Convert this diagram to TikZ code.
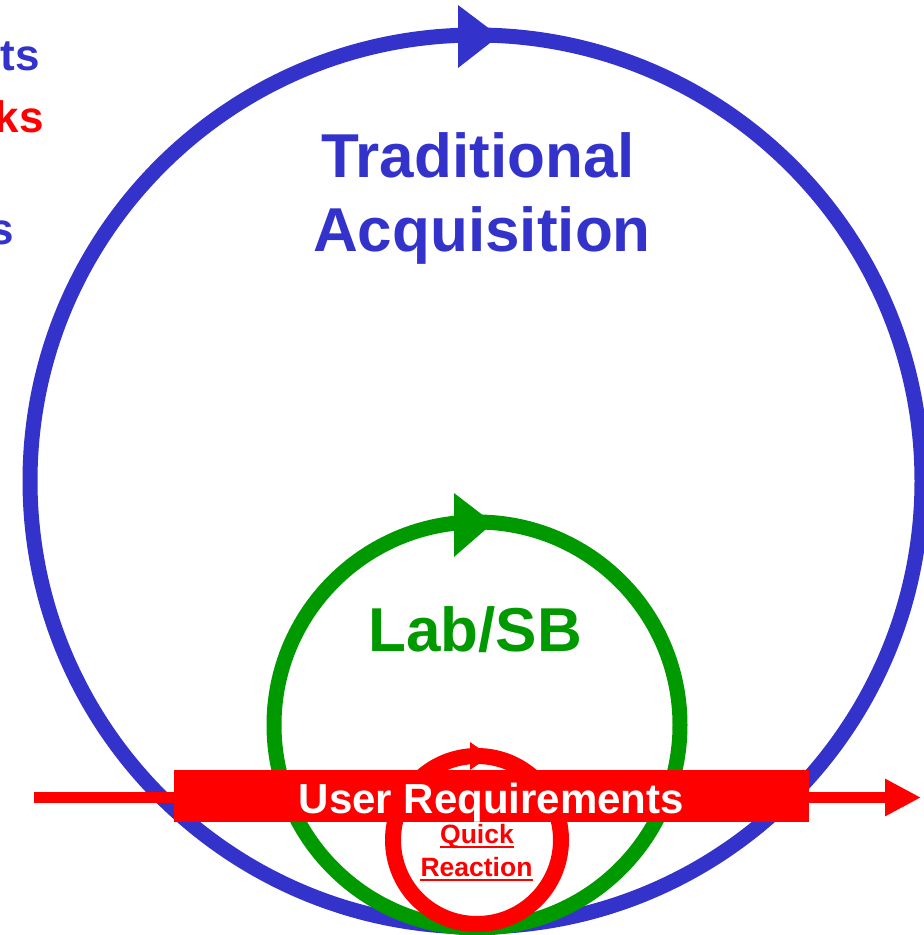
\documentclass[tikz,border=0pt]{standalone}
\usepackage{fontspec}
\setmainfont{Liberation Sans}
\usetikzlibrary{arrows.meta}
\definecolor{cblue}{RGB}{51,51,204}
\definecolor{cgreen}{RGB}{0,153,0}
\definecolor{cred}{RGB}{255,0,0}
\tikzset{
  ring/.style={line width=15pt},
  lbl/.style={inner sep=0pt, anchor=base, font=\bfseries},
  side/.style={inner sep=0pt, anchor=base east, font=\bfseries\fontsize{44}{50}\selectfont},
  uline/.style={cred, line width=2.2pt}
}
\begin{document}
\begin{tikzpicture}[x=1pt,y=-1pt]
\useasboundingbox (0,0) rectangle (924,935);
\clip (0,0) rectangle (924,935);
% side texts (clipped)
\node[side, text=cblue] (t1) at (40,70) {ts};
\node[side, text=cred] (t2) at (44,132) {ks};
\node[side, text=cblue] (t3) at (14,244) {s};
% traditional acquisition loop
\draw[ring, cblue] (476,481) circle[radius=446];
\fill[cblue] (458,5) -- (499,36) -- (458,68) -- cycle;
% lab loop
\draw[ring, cgreen] (477,725) circle[radius=203];
\fill[cgreen] (454,493) -- (493,523) -- (454,557) -- cycle;
% user requirements arrow
\coordinate (ls) at (34,797.5);
\coordinate (le) at (921,797.5);
\draw[cred, line width=11pt, -{Triangle[length=36pt,width=35pt]}] (ls) -- (le);
% quick reaction loop
\draw[cred, line width=16pt] (477,840) circle[radius=84];
\fill[cred] (470,742) -- (490,756) -- (470,770) -- cycle;
% banner
\fill[cred] (174,770) rectangle (809,822);
\node[lbl, text=white, font=\bfseries\fontsize{42}{48}\selectfont] (ur) at (491.5,813) {User Requirements};
% labels
\node[lbl, text=cblue, font=\bfseries\fontsize{62}{74}\selectfont] (tr) at (478,177.5) {Traditional};
\node[lbl, text=cblue, font=\bfseries\fontsize{62}{74}\selectfont] (aq) at (482,251.5) {Acquisition};
\node[lbl, text=cgreen, font=\bfseries\fontsize{62}{74}\selectfont] (lab) at (475,651.5) {Lab/SB};
\node[lbl, text=cred, font=\bfseries\fontsize{26.5}{32}\selectfont] (q) at (477,843) {Quick};
\node[lbl, text=cred, font=\bfseries\fontsize{26.5}{32}\selectfont] (r) at (476.5,876.5) {Reaction};
\draw[uline] ([yshift=-4pt]q.base west) -- ([yshift=-4pt]q.base east);
\draw[uline] ([yshift=-3.5pt]r.base west) -- ([yshift=-3.5pt]r.base east);
\end{tikzpicture}
\end{document}
